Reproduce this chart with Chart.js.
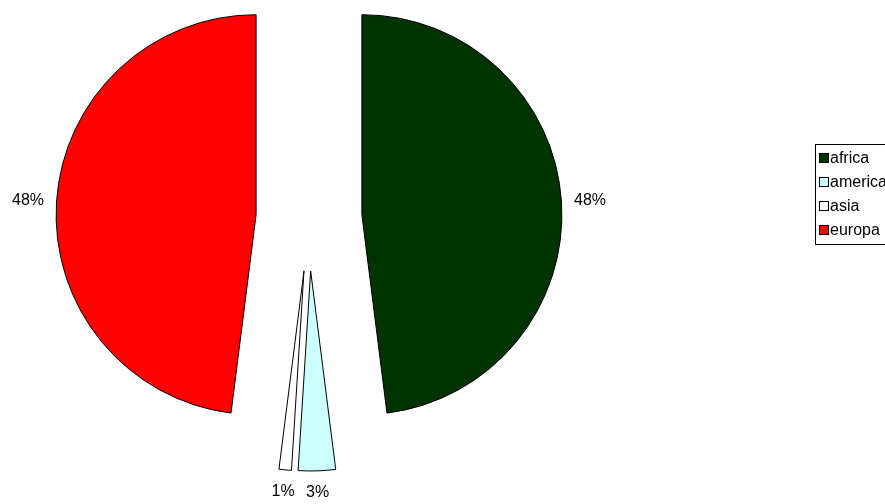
<!DOCTYPE html>
<html lang="en">
<head>
<meta charset="UTF-8">
<title>Regions</title>
<script src="https://cdn.jsdelivr.net/npm/chart.js"></script>
<style>
  html, body { margin: 0; padding: 0; background: #fff; overflow: hidden; }
</style>
</head>
<body>
<canvas id="pie" width="885" height="504"></canvas>
<script>
// data
const labels = ["africa", "america", "asia", "europa"];
const values = [48, 3, 1, 48];
const colors = ["#003300", "#CCFFFF", "#FFFFFF", "#FF0000"];

// how far each slice is pulled out from the centre (px)
const EXPLODE = 53;
const LABEL_GAP = 12;
const LABEL_FONT = "16px 'Liberation Sans', Arial, sans-serif";
const LEGEND_FONT = "16px 'Liberation Sans', Arial, sans-serif";

function sliceShift(arc) {
  const mid = (arc.startAngle + arc.endAngle) / 2;
  return { dx: Math.cos(mid) * EXPLODE, dy: Math.sin(mid) * EXPLODE, mid: mid };
}

// draw the arcs ourselves, each one translated along its mid angle
const explodePlugin = {
  id: "explode",
  beforeDatasetDraw(chart, args) {
    const ctx = chart.ctx;
    args.meta.data.forEach(arc => {
      const s = sliceShift(arc);
      ctx.save();
      ctx.translate(s.dx, s.dy);
      arc.draw(ctx);
      ctx.restore();
    });
    return false;
  }
};

// percentage labels outside the slices
const labelPlugin = {
  id: "pctLabels",
  afterDatasetsDraw(chart) {
    const ctx = chart.ctx;
    const meta = chart.getDatasetMeta(0);
    const total = values.reduce((a, b) => a + b, 0);
    ctx.save();
    ctx.font = LABEL_FONT;
    ctx.fillStyle = "#000";
    ctx.textAlign = "center";
    ctx.textBaseline = "middle";
    meta.data.forEach((arc, i) => {
      const s = sliceShift(arc);
      const txt = Math.round(values[i] / total * 100) + "%";
      const w = ctx.measureText(txt).width;
      const h = 18;
      const c = Math.cos(s.mid), sn = Math.sin(s.mid);
      const d = arc.outerRadius + LABEL_GAP + Math.abs(c) * w / 2 + Math.abs(sn) * h / 2;
      ctx.fillText(txt, arc.x + s.dx + c * d, arc.y + s.dy + sn * d);
    });
    ctx.restore();
  }
};

// Excel-like boxed legend on the right
const legendPlugin = {
  id: "boxLegend",
  afterDraw(chart) {
    const ctx = chart.ctx;
    const x = 815, y = 144, rowH = 24;
    ctx.save();
    ctx.strokeStyle = "#000";
    ctx.lineWidth = 1;
    ctx.strokeRect(x + 0.5, y + 0.5, 120, labels.length * rowH + 4);
    ctx.font = LEGEND_FONT;
    ctx.textBaseline = "middle";
    labels.forEach((lab, i) => {
      const cy = y + 2 + rowH * i + rowH / 2;
      ctx.fillStyle = colors[i];
      ctx.fillRect(x + 4.5, cy - 4.5, 9, 9);
      ctx.strokeRect(x + 4.5, cy - 4.5, 9, 9);
      ctx.fillStyle = "#000";
      ctx.fillText(lab, x + 15, cy + 1);
    });
    ctx.restore();
  }
};

new Chart(document.getElementById("pie"), {
  type: "pie",
  data: {
    labels: labels,
    datasets: [{
      data: values,
      backgroundColor: colors,
      borderColor: "#000",
      borderWidth: 1,
      borderJoinStyle: "miter"
    }]
  },
  options: {
    responsive: false,
    devicePixelRatio: 1,
    animation: false,
    events: [],
    radius: 200,
    layout: { padding: { left: 0, right: 267, top: 0, bottom: 68 } },
    plugins: {
      legend: { display: false },
      tooltip: { enabled: false }
    }
  },
  plugins: [explodePlugin, labelPlugin, legendPlugin]
});
</script>
</body>
</html>
